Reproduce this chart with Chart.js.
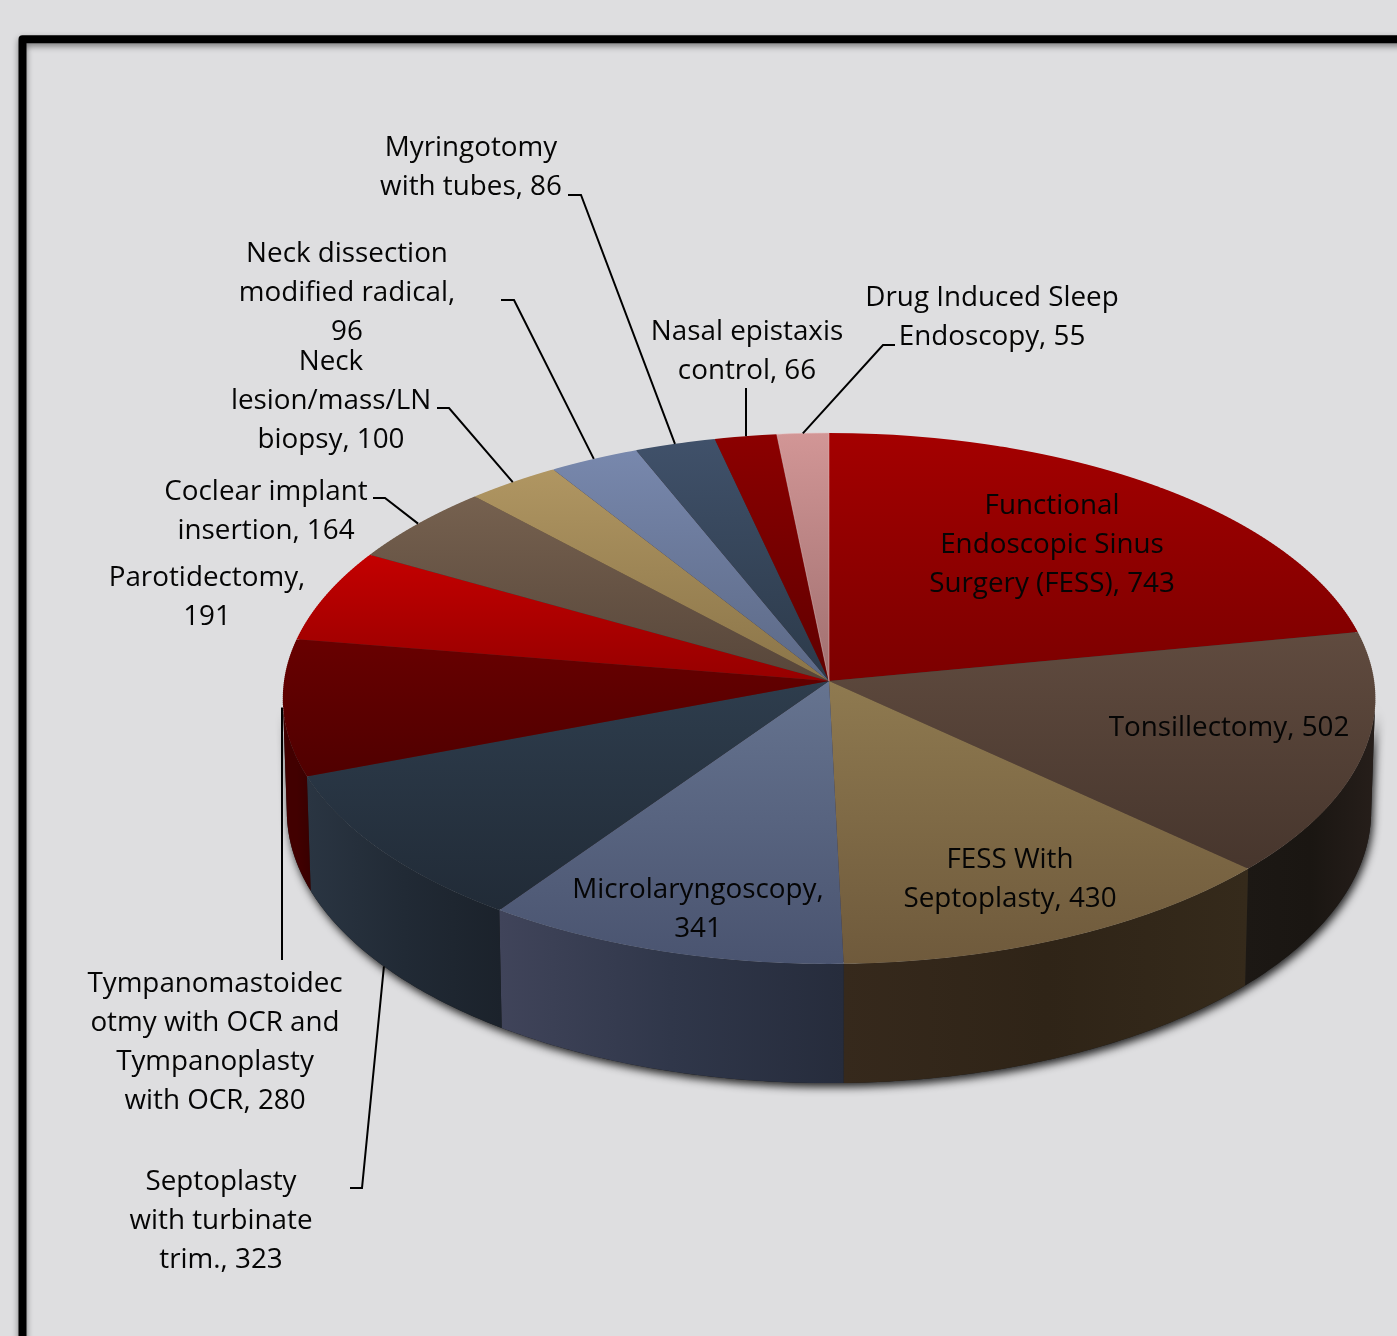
<!DOCTYPE html>
<html>
<head>
<meta charset="utf-8">
<title>ENT procedures by volume</title>
<script src="https://cdn.jsdelivr.net/npm/chart.js@4/dist/chart.umd.min.js"></script>
<style>
  html, body { margin: 0; padding: 0; background: #dedee0; overflow: hidden; }
  canvas { display: block; }
</style>
</head>
<body>
<canvas id="pie" width="1397" height="1336"></canvas>
<script>
// Procedure counts, clockwise from twelve o'clock
const procedures = [
  "Functional Endoscopic Sinus Surgery (FESS)", "Tonsillectomy", "FESS With Septoplasty",
  "Microlaryngoscopy", "Septoplasty with turbinate trim.",
  "Tympanomastoidectomy with OCR and Tympanoplasty with OCR", "Parotidectomy",
  "Coclear implant insertion", "Neck lesion/mass/LN biopsy", "Neck dissection modified radical",
  "Myringotomy with tubes", "Nasal epistaxis control", "Drug Induced Sleep Endoscopy"
];
const counts = [743, 502, 430, 341, 323, 280, 191, 164, 100, 96, 86, 66, 55];

// Label wrapping; the count is appended to the last line
const labelWraps = [
  ["Functional", "Endoscopic Sinus", "Surgery (FESS),"],
  ["Tonsillectomy,"],
  ["FESS With", "Septoplasty,"],
  ["Microlaryngoscopy,", ""],
  ["Septoplasty", "with turbinate", "trim.,"],
  ["Tympanomastoidec", "otmy with OCR and", "Tympanoplasty", "with OCR,"],
  ["Parotidectomy,", ""],
  ["Coclear implant", "insertion,"],
  ["Neck", "lesion/mass/LN", "biopsy,"],
  ["Neck dissection", "modified radical,", ""],
  ["Myringotomy", "with tubes,"],
  ["Nasal epistaxis", "control,"],
  ["Drug Induced Sleep", "Endoscopy,"]
];
const labelCenterX = [1052, 1229, 1010, 698, 221, 215, 207, 266, 331, 347, 471, 747, 992];
const labelFirstY  = [506, 728, 860, 890, 1182, 984, 578, 492, 362, 254, 148, 332, 298];
const lineHeight = 39;

// Leader lines: fixed points near the label, then a tip at the slice's middle on its edge
const leaderPoints = [
  null, null, null, null,
  [[350, 1188], [362, 1188]],
  [[282, 960]],
  null,
  [[373, 498], [385, 498]],
  [[437, 408], [449, 408]],
  [[501, 300], [514, 300]],
  [[568, 195], [581, 195]],
  [[746, 388]],
  [[895, 345], [883, 345]]
];

// Top face shading: colour at the upper and lower end of each slice
const topShade = ["#a40000", "#604b3f", "#8f7a50", "#667490", "#2e3d4d", "#680000", "#c40000", "#76614f", "#b09662", "#7888ad", "#40516a", "#8c0000", "#d29696"];
const lowShade = ["#7c0000", "#47362d", "#6f5a3c", "#4a5470", "#212b37", "#500000", "#960000", "#57463a", "#8b7549", "#5c6986", "#2c3a4a", "#600000", "#a07070"];

// Side wall shading, left to right; slices on the far side have no visible wall
const wallShade = [
  null,
  ["#1c1814", "#1a1612", "#261e1a"],
  ["#36291c", "#2f2417", "#352a1b"],
  ["#40445a", "#30374a", "#262c3c"],
  ["#2a3542", "#212a35", "#1b222b"],
  ["#420000", "#420000", "#380000"]
];

const frameColor = "#000000";
const pageColor = "#dedee0";
const textColor = "#050505";
const labelFont = "27.8px 'Open Sans'";
const sliceEdgeWidth = [0, 0, 0, 0, 0, 0, 0, 0, 0, 0, 0, 0, 1];
const sliceEdgeColor = "rgba(232,190,190,0.7)";

// Perspective of the disc: rim of the top face and rim of the bottom face
const centerX = 829, centerY = 681, radius = 546;
const perspective = -0.0659;
const topRim = { cy: 681, ax: 545, ay: 264.3 };
const lowRim = { cy: 793, ax: 541, ay: 271 };
const project = (rim, u, v) => {
  const d = 1 + perspective * v;
  return [centerX + rim.ax * u / d, rim.cy + rim.ay * v / d];
};
// The visible wall runs between the two tangent generators of the disc
const wallFrom = 4 * Math.PI / 180, wallTo = 176 * Math.PI / 180;

const canvas = document.getElementById("pie");
const total = counts.reduce((a, b) => a + b, 0);

// Vertical gradients in chart space, spanning each slice's own extent
const sliceFills = counts.map((value, i) => {
  const before = counts.slice(0, i).reduce((a, b) => a + b, 0);
  const a0 = before / total * 2 * Math.PI, a1 = (before + value) / total * 2 * Math.PI;
  const vs = [0, -Math.cos(a0), -Math.cos(a1)];
  if (a0 <= Math.PI && a1 >= Math.PI) vs.push(1);
  if (a0 === 0) vs.push(-1);
  const g = canvas.getContext("2d").createLinearGradient(0, centerY + radius * Math.min(...vs), 0, centerY + radius * Math.max(...vs));
  g.addColorStop(0, topShade[i]);
  g.addColorStop(1, lowShade[i]);
  return g;
});

function rimPath(ctx, rim, from, to, first) {
  const steps = Math.max(2, Math.ceil(Math.abs(to - from) / 0.01));
  for (let s = 0; s <= steps; s++) {
    const a = from + (to - from) * s / steps;
    const [x, y] = project(rim, Math.cos(a), Math.sin(a));
    if (s === 0 && first) ctx.moveTo(x, y); else ctx.lineTo(x, y);
  }
}

const discPlugin = {
  id: "disc",
  beforeDatasetsDraw(chart) {
    const ctx = chart.ctx;
    const arcs = chart.getDatasetMeta(0).data;

    // Page and frame
    ctx.save();
    ctx.fillStyle = pageColor;
    ctx.fillRect(0, 0, chart.width, chart.height);
    ctx.shadowColor = "rgba(0,0,0,0.45)";
    ctx.shadowBlur = 6;
    ctx.shadowOffsetY = 3;
    ctx.strokeStyle = frameColor;
    ctx.lineWidth = 8;
    ctx.lineJoin = "round";
    ctx.beginPath();
    ctx.moveTo(22.5, 1400);
    ctx.lineTo(22.5, 39.3);
    ctx.lineTo(1500, 39.3);
    ctx.stroke();
    ctx.restore();

    // Soft shadow under the disc
    ctx.save();
    ctx.shadowColor = "rgba(0,0,0,0.85)";
    ctx.shadowBlur = 9;
    ctx.shadowOffsetX = 2;
    ctx.shadowOffsetY = 4;
    ctx.fillStyle = "#1c1c1c";
    ctx.beginPath();
    rimPath(ctx, topRim, wallFrom, wallTo, true);
    rimPath(ctx, lowRim, wallTo, wallFrom, false);
    ctx.closePath();
    ctx.fill();
    ctx.restore();

    // Side walls, front half only
    arcs.forEach((arc, i) => {
      const from = Math.max(arc.startAngle, wallFrom), to = Math.min(arc.endAngle, wallTo);
      if (to <= from || !wallShade[i]) return;
      const shade = wallShade[i];
      const xs = [project(lowRim, Math.cos(from), Math.sin(from))[0], project(lowRim, Math.cos(to), Math.sin(to))[0],
                  project(topRim, Math.cos(from), Math.sin(from))[0], project(topRim, Math.cos(to), Math.sin(to))[0]];
      const g = ctx.createLinearGradient(Math.min(...xs), 0, Math.max(...xs), 0);
      g.addColorStop(0, shade[0]);
      g.addColorStop(0.5, shade[1]);
      g.addColorStop(1, shade[2]);
      ctx.fillStyle = g;
      ctx.beginPath();
      rimPath(ctx, topRim, from, to, true);
      rimPath(ctx, lowRim, to, from, false);
      ctx.closePath();
      ctx.fill();
    });

    // Underlay that keeps the page from showing through slice seams
    ctx.save();
    ctx.fillStyle = "#3c2c2c";
    ctx.beginPath();
    for (let s = 0; s <= 720; s++) {
      const a = s / 720 * 2 * Math.PI;
      const [x, y] = project(topRim, 0.995 * Math.cos(a), 0.995 * Math.sin(a));
      if (s === 0) ctx.moveTo(x, y); else ctx.lineTo(x, y);
    }
    ctx.closePath();
    ctx.fill();
    ctx.restore();

    // Top face: the chart's own arcs, drawn through thin bands that follow the perspective
    const vAt = y => y / (topRim.ay - perspective * y);
    const band = 2;
    for (let sy = 430; sy < 968; sy += band) {
      const v0 = vAt(sy - topRim.cy), v1 = vAt(sy + band - topRim.cy);
      const sY = band / (radius * (v1 - v0));
      const sX = topRim.ax / (1 + perspective * (v0 + v1) / 2) / radius;
      ctx.save();
      ctx.beginPath();
      ctx.rect(0, sy, chart.width, band);
      ctx.clip();
      ctx.setTransform(sX, 0, 0, sY, centerX * (1 - sX), sy - sY * (centerY + radius * v0));
      arcs.forEach(arc => arc.draw(ctx));
      ctx.restore();
    }
    return false;
  },
  afterDraw(chart) {
    const ctx = chart.ctx;
    const arcs = chart.getDatasetMeta(0).data;
    ctx.save();

    // Leader lines
    ctx.strokeStyle = "#000000";
    ctx.lineWidth = 2;
    leaderPoints.forEach((pts, i) => {
      if (!pts) return;
      const a = (arcs[i].startAngle + arcs[i].endAngle) / 2;
      const onFront = Math.sin(a) > 0.5;
      const tip = project(onFront ? lowRim : topRim, Math.cos(a), Math.sin(a));
      const straightDown = pts.length === 1;
      ctx.beginPath();
      pts.forEach((p, k) => k ? ctx.lineTo(p[0], p[1]) : ctx.moveTo(p[0], p[1]));
      ctx.lineTo(straightDown ? pts[0][0] : tip[0], tip[1]);
      ctx.stroke();
    });

    // Slice labels
    ctx.fillStyle = textColor;
    ctx.font = labelFont;
    ctx.textAlign = "center";
    ctx.textBaseline = "middle";
    labelWraps.forEach((lines, i) => {
      lines.forEach((line, k) => {
        const text = k === lines.length - 1 ? (line + " " + counts[i]).trim() : line;
        ctx.fillText(text, labelCenterX[i], labelFirstY[i] + k * lineHeight);
      });
    });
    ctx.restore();
  }
};

new Chart(canvas, {
  type: "pie",
  data: {
    labels: procedures,
    datasets: [{ data: counts, backgroundColor: sliceFills, borderWidth: sliceEdgeWidth, borderColor: sliceEdgeColor, radius: radius }]
  },
  options: {
    responsive: false,
    animation: false,
    layout: { padding: { left: 261, top: 26, right: 0, bottom: 0 } },
    plugins: { legend: { display: false }, tooltip: { enabled: false } }
  },
  plugins: [discPlugin]
});
</script>
</body>
</html>
